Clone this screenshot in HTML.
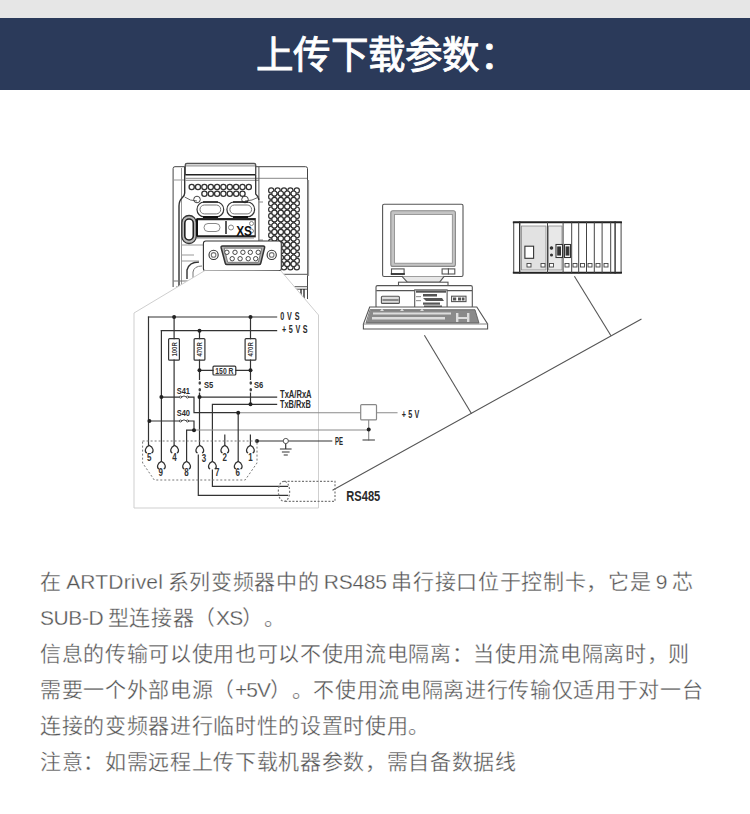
<!DOCTYPE html>
<html lang="zh-CN"><head><meta charset="utf-8">
<style>
html,body{margin:0;padding:0;background:#fff;}
body{width:750px;height:814px;position:relative;overflow:hidden;font-family:"Liberation Sans",sans-serif;}
.dg{position:absolute;left:0;top:0;}
.top{position:absolute;left:0;top:0;width:750px;height:18px;background:#e6e6e6;}
.hdr{position:absolute;left:0;top:18px;width:750px;height:72px;background:#2b3a5a;}
.hdr .t{position:absolute;left:256px;top:15px;font-size:37.5px;line-height:44px;color:#fff;font-weight:400;-webkit-text-stroke:0.9px #fff;letter-spacing:0.3px;white-space:nowrap;text-spacing-trim:space-all;}
.txt{position:absolute;left:40px;top:564px;font-size:21px;line-height:36px;color:#555;-webkit-text-stroke:0.3px #fff;letter-spacing:0.67px;word-spacing:-2px;white-space:nowrap;text-spacing-trim:space-all;}
.l{letter-spacing:0.17px;}
.d{letter-spacing:-0.25px;}
</style></head><body>
<div class="top"></div>
<div class="hdr"><div class="t">上传下载参数：</div></div>
<div class="txt">在 <span class="l">ARTDrivel</span> 系列变频器中的 <span class="d">RS485</span> 串行接口位于控制卡，它是 <span class="d">9</span> 芯<br><span class="l" style="letter-spacing:-0.43px">SUB-D</span> 型连接器（<span class="l" style="letter-spacing:-0.83px">XS</span>）。<br>信息的传输可以使用也可以不使用流电隔离：当使用流电隔离时，则<br>需要一个外部电源（<span class="d" style="letter-spacing:-1px">+5V</span>）。不使用流电隔离进行传输仅适用于对一台<br>连接的变频器进行临时性的设置时使用。<br>注意：如需远程上传下载机器参数，需自备数据线</div>
<svg class="dg" width="750" height="814" viewBox="0 0 750 814">
<g fill="none" stroke="#444" stroke-width="1">
<path d="M173.1,287 V168.5 Q173.1,166.7 175,166.7 H185.3" />
<path d="M181.5,168 V290" stroke="#999"/>
<path d="M173.5,180 H185" stroke="#999"/>
<path d="M184.7,167 V193 Q184.7,196 182,198 Q179,201 179,206 V290" stroke="#333" stroke-width="1.4"/>
<path d="M185.3,174.7 V165 Q185.3,163.5 187,163.5 H254 Q255.7,163.5 255.7,165 V174.7" stroke="#555" stroke-width="1.4"/><path d="M186,165.8 H255" stroke="#999" stroke-width="1.2"/>
<path d="M185.3,174.7 H255.7" stroke="#222" stroke-width="1.5"/>
<path d="M185.3,178.3 H307.5 M185.3,180.3 H258.9" stroke="#888"/>
<path d="M255.7,166.7 H305.5 Q307.5,166.7 307.5,168.5 V299" /><path d="M308.3,180 V276" stroke="#999" stroke-width="1.6"/>
<path d="M258.9,167 V281" stroke="#555"/>
<path d="M255.7,175 V194 Q258.9,197 258.9,200" stroke="#333" stroke-width="1.3"/>
<path d="M184.7,197 Q190,201 197,201 M245,201 Q252,201 258.9,197" stroke="#666"/>
<path d="M281.3,274.3 H307.5 M290,286.7 H307.5 M290,289.2 H307.5" stroke="#555"/>
<path d="M301,289 V299 M304,289 V299" stroke="#222" stroke-width="1.3"/>
<path d="M173.5,281 H203 M176,287 H186" stroke="#777"/>
<path d="M199,262 Q189,262 187,270 V279" stroke="#333" stroke-width="1.4"/>
<path d="M202,266 Q194,266 193,272 V279" stroke="#777"/>
<path d="M181.5,245 H203 M181.5,255 H194 M181.5,261 H199" stroke="#999"/>
<circle cx="191.7" cy="187" r="2.6" stroke="#333" stroke-width="1.3"/>
<circle cx="198.0" cy="187" r="2.6" stroke="#333" stroke-width="1.3"/>
<circle cx="204.4" cy="187" r="2.6" stroke="#333" stroke-width="1.3"/>
<circle cx="210.8" cy="187" r="2.6" stroke="#333" stroke-width="1.3"/>
<circle cx="217.1" cy="187" r="2.6" stroke="#333" stroke-width="1.3"/>
<circle cx="223.4" cy="187" r="2.6" stroke="#333" stroke-width="1.3"/>
<circle cx="229.8" cy="187" r="2.6" stroke="#333" stroke-width="1.3"/>
<circle cx="236.1" cy="187" r="2.6" stroke="#333" stroke-width="1.3"/>
<circle cx="242.5" cy="187" r="2.6" stroke="#333" stroke-width="1.3"/>
<circle cx="248.8" cy="187" r="2.6" stroke="#333" stroke-width="1.3"/>
<circle cx="204.4" cy="193.8" r="2.6" stroke="#333" stroke-width="1.3"/>
<circle cx="210.8" cy="193.8" r="2.6" stroke="#333" stroke-width="1.3"/>
<circle cx="217.1" cy="193.8" r="2.6" stroke="#333" stroke-width="1.3"/>
<circle cx="223.4" cy="193.8" r="2.6" stroke="#333" stroke-width="1.3"/>
<circle cx="229.8" cy="193.8" r="2.6" stroke="#333" stroke-width="1.3"/>
<circle cx="236.2" cy="193.8" r="2.6" stroke="#333" stroke-width="1.3"/>
<circle cx="242.5" cy="193.8" r="2.6" stroke="#333" stroke-width="1.3"/>
<circle cx="197" cy="199.5" r="3.3"/><circle cx="245" cy="199.5" r="3.3"/>
<rect x="197" y="202" width="26.7" height="14.9" rx="7.4" stroke="#333" stroke-width="1.2"/>
<rect x="200" y="205" width="20.7" height="8.9" rx="4.4" stroke="#777"/>
<rect x="226.9" y="202" width="27.7" height="14.9" rx="7.4" stroke="#333" stroke-width="1.2"/>
<rect x="229.9" y="205" width="21.7" height="8.9" rx="4.4" stroke="#777"/>
<path d="M203,217 H218 M233,217 H248" stroke="#111" stroke-width="2.2"/>
<path d="M203,202 H218 M233,202 H248" stroke="#222" stroke-width="1.3"/>
<rect x="181.8" y="215.5" width="14.5" height="28" rx="7.2" stroke="#333" stroke-width="1.3" fill="#bbb"/>
<rect x="184.8" y="219" width="8.5" height="21" rx="4.2" stroke="#222" stroke-width="1.6" fill="#fff"/>
<rect x="197" y="218.6" width="58.2" height="18.2" stroke="#333" stroke-width="1.2"/><path d="M197,219.3 H255.2 M197,236.2 H255.2" stroke="#222" stroke-width="1.8"/>
<path d="M197,219 V236" stroke="#111" stroke-width="2"/>
<rect x="204" y="223.5" width="16" height="8" rx="4" stroke="#888"/>
<path d="M226,221 V234" stroke="#222" stroke-width="1.5"/>
<circle cx="231" cy="227.5" r="2.5" stroke="#888"/><circle cx="251.5" cy="223.5" r="2" stroke="#888"/><circle cx="251.5" cy="231" r="2" stroke="#888"/>
<path d="M197,238 H254" stroke="#888"/>
<path d="M258.9,202 H263 M258.9,240 H263" stroke="#888"/>
</g>
<g fill="#fff" stroke="#333" stroke-width="1.2"><circle cx="271.2" cy="190.4" r="2.6"/><circle cx="277.6" cy="190.4" r="2.6"/><circle cx="284.0" cy="190.4" r="2.6"/><circle cx="290.4" cy="190.4" r="2.6"/><circle cx="296.8" cy="190.4" r="2.6"/><circle cx="271.2" cy="196.8" r="2.6"/><circle cx="277.6" cy="196.8" r="2.6"/><circle cx="284.0" cy="196.8" r="2.6"/><circle cx="290.4" cy="196.8" r="2.6"/><circle cx="296.8" cy="196.8" r="2.6"/><circle cx="271.2" cy="203.2" r="2.6"/><circle cx="277.6" cy="203.2" r="2.6"/><circle cx="284.0" cy="203.2" r="2.6"/><circle cx="290.4" cy="203.2" r="2.6"/><circle cx="296.8" cy="203.2" r="2.6"/><circle cx="271.2" cy="209.6" r="2.6"/><circle cx="277.6" cy="209.6" r="2.6"/><circle cx="284.0" cy="209.6" r="2.6"/><circle cx="290.4" cy="209.6" r="2.6"/><circle cx="296.8" cy="209.6" r="2.6"/><circle cx="271.2" cy="216.0" r="2.6"/><circle cx="277.6" cy="216.0" r="2.6"/><circle cx="284.0" cy="216.0" r="2.6"/><circle cx="290.4" cy="216.0" r="2.6"/><circle cx="296.8" cy="216.0" r="2.6"/><circle cx="271.2" cy="222.4" r="2.6"/><circle cx="277.6" cy="222.4" r="2.6"/><circle cx="284.0" cy="222.4" r="2.6"/><circle cx="290.4" cy="222.4" r="2.6"/><circle cx="296.8" cy="222.4" r="2.6"/><circle cx="271.2" cy="228.8" r="2.6"/><circle cx="277.6" cy="228.8" r="2.6"/><circle cx="284.0" cy="228.8" r="2.6"/><circle cx="290.4" cy="228.8" r="2.6"/><circle cx="296.8" cy="228.8" r="2.6"/><circle cx="271.2" cy="235.2" r="2.6"/><circle cx="277.6" cy="235.2" r="2.6"/><circle cx="284.0" cy="235.2" r="2.6"/><circle cx="290.4" cy="235.2" r="2.6"/><circle cx="296.8" cy="235.2" r="2.6"/><circle cx="271.2" cy="241.6" r="2.6"/><circle cx="277.6" cy="241.6" r="2.6"/><circle cx="284.0" cy="241.6" r="2.6"/><circle cx="290.4" cy="241.6" r="2.6"/><circle cx="296.8" cy="241.6" r="2.6"/><circle cx="271.2" cy="248.0" r="2.6"/><circle cx="277.6" cy="248.0" r="2.6"/><circle cx="284.0" cy="248.0" r="2.6"/><circle cx="290.4" cy="248.0" r="2.6"/><circle cx="296.8" cy="248.0" r="2.6"/><circle cx="271.2" cy="254.4" r="2.6"/><circle cx="277.6" cy="254.4" r="2.6"/><circle cx="284.0" cy="254.4" r="2.6"/><circle cx="290.4" cy="254.4" r="2.6"/><circle cx="296.8" cy="254.4" r="2.6"/><circle cx="271.2" cy="260.8" r="2.6"/><circle cx="277.6" cy="260.8" r="2.6"/><circle cx="284.0" cy="260.8" r="2.6"/><circle cx="290.4" cy="260.8" r="2.6"/><circle cx="296.8" cy="260.8" r="2.6"/><circle cx="271.2" cy="267.2" r="2.6"/><circle cx="277.6" cy="267.2" r="2.6"/><circle cx="284.0" cy="267.2" r="2.6"/><circle cx="290.4" cy="267.2" r="2.6"/><circle cx="296.8" cy="267.2" r="2.6"/><circle cx="274.4" cy="193.6" r="2.6"/><circle cx="280.8" cy="193.6" r="2.6"/><circle cx="287.2" cy="193.6" r="2.6"/><circle cx="293.6" cy="193.6" r="2.6"/><circle cx="274.4" cy="200.0" r="2.6"/><circle cx="280.8" cy="200.0" r="2.6"/><circle cx="287.2" cy="200.0" r="2.6"/><circle cx="293.6" cy="200.0" r="2.6"/><circle cx="274.4" cy="206.4" r="2.6"/><circle cx="280.8" cy="206.4" r="2.6"/><circle cx="287.2" cy="206.4" r="2.6"/><circle cx="293.6" cy="206.4" r="2.6"/><circle cx="274.4" cy="212.8" r="2.6"/><circle cx="280.8" cy="212.8" r="2.6"/><circle cx="287.2" cy="212.8" r="2.6"/><circle cx="293.6" cy="212.8" r="2.6"/><circle cx="274.4" cy="219.2" r="2.6"/><circle cx="280.8" cy="219.2" r="2.6"/><circle cx="287.2" cy="219.2" r="2.6"/><circle cx="293.6" cy="219.2" r="2.6"/><circle cx="274.4" cy="225.6" r="2.6"/><circle cx="280.8" cy="225.6" r="2.6"/><circle cx="287.2" cy="225.6" r="2.6"/><circle cx="293.6" cy="225.6" r="2.6"/><circle cx="274.4" cy="232.0" r="2.6"/><circle cx="280.8" cy="232.0" r="2.6"/><circle cx="287.2" cy="232.0" r="2.6"/><circle cx="293.6" cy="232.0" r="2.6"/><circle cx="274.4" cy="238.4" r="2.6"/><circle cx="280.8" cy="238.4" r="2.6"/><circle cx="287.2" cy="238.4" r="2.6"/><circle cx="293.6" cy="238.4" r="2.6"/><circle cx="274.4" cy="244.8" r="2.6"/><circle cx="280.8" cy="244.8" r="2.6"/><circle cx="287.2" cy="244.8" r="2.6"/><circle cx="293.6" cy="244.8" r="2.6"/><circle cx="274.4" cy="251.2" r="2.6"/><circle cx="280.8" cy="251.2" r="2.6"/><circle cx="287.2" cy="251.2" r="2.6"/><circle cx="293.6" cy="251.2" r="2.6"/><circle cx="274.4" cy="257.6" r="2.6"/><circle cx="280.8" cy="257.6" r="2.6"/><circle cx="287.2" cy="257.6" r="2.6"/><circle cx="293.6" cy="257.6" r="2.6"/><circle cx="274.4" cy="264.0" r="2.6"/><circle cx="280.8" cy="264.0" r="2.6"/><circle cx="287.2" cy="264.0" r="2.6"/><circle cx="293.6" cy="264.0" r="2.6"/></g>
<g fill="#fff" stroke="#333" stroke-width="1.1">
<rect x="203.4" y="241" width="77.9" height="29.9" rx="2.5"/>
<path d="M222.5,246 H263.2 Q265,246 264.5,248 L260.8,263 Q260.4,264.6 259,264.6 H227 Q225.6,264.6 225.2,263 L221.2,248 Q220.8,246 222.5,246 Z" stroke-width="1.5" fill="#b0b0b0"/>
<path d="M224.3,248.2 H261.7 L258.3,262.3 H227.7 Z" stroke="#666" stroke-width="0.8" fill="#fff"/>
<circle cx="226.9" cy="252.3" r="2.2" stroke-width="0.9"/>
<circle cx="235" cy="252.3" r="2.2" stroke-width="0.9"/>
<circle cx="242.9" cy="252.3" r="2.2" stroke-width="0.9"/>
<circle cx="250.3" cy="252.3" r="2.2" stroke-width="0.9"/>
<circle cx="258.2" cy="252.3" r="2.2" stroke-width="0.9"/>
<circle cx="232.2" cy="258.7" r="2.2" stroke-width="0.9"/>
<circle cx="240.1" cy="258.7" r="2.2" stroke-width="0.9"/>
<circle cx="248.2" cy="258.7" r="2.2" stroke-width="0.9"/>
<circle cx="255.7" cy="258.7" r="2.2" stroke-width="0.9"/>
<circle cx="213.6" cy="254.9" r="4.6"/><circle cx="213.6" cy="254.9" r="2.3" stroke="#777"/>
<circle cx="271.7" cy="254.9" r="4.6"/><circle cx="271.7" cy="254.9" r="2.3" stroke="#777"/>
</g>
<text transform="translate(236.2,235.6) scale(0.85,1)" font-family="Liberation Sans, sans-serif" font-size="14" font-weight="bold" fill="#111" letter-spacing="-0.3">XS</text>
<g fill="none" stroke="#333" stroke-width="1.2" stroke-linecap="square">
<!-- callout polygon -->
<path d="M205,270.5 L134,313 L134,508 L318.5,508 L318.5,315 L281,271" stroke="#cfcfcf" stroke-width="1" fill="#fff"/>
<!-- bus lines -->
<path d="M333,490 L641,319.3" stroke="#555" stroke-width="1.1"/>
<path d="M424.7,335.7 L471.3,413.2" stroke="#555" stroke-width="1.1"/>
<path d="M574.7,276.7 L610.7,335.3" stroke="#555" stroke-width="1.1"/>
<g fill="none" stroke="#555" stroke-width="1.1">
<rect x="382.6" y="204.3" width="80.4" height="72.2" rx="1.5" fill="#fff"/>
<rect x="390.8" y="210.7" width="64.6" height="55.7" rx="2" fill="#c4c4c4" stroke="#888"/>
<rect x="394.6" y="214.5" width="57.7" height="48.7" fill="#fff" stroke="#888" stroke-width="0.8"/>
<rect x="391.5" y="268.9" width="12.6" height="5.1" fill="#fff"/>
<path d="M391.5,274 H404.1" stroke="#222" stroke-width="1.5"/>
<rect x="442.1" y="268.9" width="12.7" height="5.1" fill="#fff"/>
<path d="M448.4,268.9 V274" />
<path d="M402.2,276.5 L407.3,282.2 H439.6 L444,276.5" fill="#e8e8e8"/>
<rect x="398.5" y="282.2" width="49.5" height="4.1" fill="#fff"/>
<rect x="376" y="285.6" width="96.3" height="22.3" rx="1.5" fill="#fff"/>

<path d="M377,290.6 H414.7 M447.1,290.6 H471.3" stroke="#555" stroke-width="1.4"/>
<rect x="381.4" y="296.2" width="18" height="7.2" rx="1" fill="#ddd"/>
<path d="M383,300 H398" stroke="#444"/>
<rect x="451.6" y="296.2" width="14.4" height="5.4" fill="#fff"/>
<rect x="414.7" y="289.9" width="32.4" height="18" fill="#fff"/>
</g>
<g fill="#555" stroke="none">
<rect x="416" y="290.5" width="30" height="2.2"/>
<rect x="423" y="294" width="14" height="2.5"/>
<path d="M423,298 H442 L444,301 H426 Z"/>
<rect x="423" y="302.5" width="17" height="2.2"/>
<rect x="424" y="305.5" width="18" height="2.4"/>
<rect x="416" y="296" width="5" height="1.2" fill="#999"/><rect x="416" y="300" width="5" height="1.2" fill="#999"/>
<rect x="453" y="297.5" width="3.2" height="3"/><rect x="458" y="297.5" width="3.2" height="3"/><rect x="462" y="297.5" width="2.5" height="3"/>
</g>
<path d="M369.7,307 H476.8 L487.6,324 V329 H363.4 V324 Z" fill="#fff" stroke="#555" stroke-width="1.1"/>
<path d="M363.4,324 H487.6" stroke="#777" stroke-width="0.9"/>
<path d="M370.6,309.7 H475 L479,323 H366.5 Z" fill="#8a8a8a" stroke="#555" stroke-width="0.8"/>
<g fill="#ddd" stroke="none">
<rect x="373" y="312.5" width="78" height="2"/><rect x="372" y="317" width="73" height="2.5"/><rect x="456" y="313" width="2.4" height="9"/><rect x="467" y="313" width="2.4" height="9"/><rect x="456" y="317" width="13" height="2"/>
<path d="M380,311 l2,-2.5 l2,2.5 z M400,311 l2,-2.5 l2,2.5 z M420,311 l2,-2.5 l2,2.5 z"/>
</g>
<g fill="none" stroke="#333" stroke-width="1.1">
<rect x="513.7" y="221.9" width="107.4" height="51.2" fill="#fff" stroke="#555"/>
<path d="M513.7,222.3 H621.1 M513.7,272.6 H621.1" stroke="#222" stroke-width="1.8"/>
<path d="M519.7,222 V273 M615.1,222 V273" stroke="#333" stroke-width="1.4"/>
<rect x="521.5" y="226" width="24.5" height="44" fill="#e2e2e2" stroke="#888" stroke-width="0.8"/>
<rect x="548.5" y="226" width="13.5" height="44" fill="#e8e8e8" stroke="#888" stroke-width="0.8"/>
<path d="M547.5,222 V273 M563.1,222 V273 M571.7,222 V273 M578.7,222 V273 M586.5,222 V273 M594.3,222 V273 M602.1,222 V273 M610.7,222 V273" stroke="#444" stroke-width="1"/>
<rect x="524.9" y="246.2" width="8.7" height="12.1" fill="#fff" stroke="#333"/>
<rect x="556" y="244.5" width="6.5" height="13" fill="#fff" stroke="#333"/>
<rect x="564.5" y="244.5" width="6" height="13" fill="#fff" stroke="#333"/>
</g>
<g fill="#fff" stroke="#444" stroke-width="0.9">
<rect x="527" y="263.5" width="4" height="3.5"/><rect x="541" y="263.5" width="4" height="3.5"/><rect x="549.5" y="263.5" width="4" height="3.5"/>
<rect x="565" y="263.5" width="4" height="3.5"/><rect x="573" y="263.5" width="4" height="3.5"/><rect x="580.5" y="263.5" width="4" height="3.5"/><rect x="588" y="263.5" width="4" height="3.5"/><rect x="596" y="263.5" width="4" height="3.5"/><rect x="604" y="263.5" width="4" height="3.5"/>
</g>
<g fill="#333"><rect x="557.8" y="247" width="2.6" height="8"/><rect x="566.2" y="247" width="2.6" height="8"/><circle cx="551.5" cy="248" r="1.2"/><circle cx="551.5" cy="255" r="0.9"/></g>
<g fill="none" stroke="#333" stroke-width="1.2" stroke-linecap="square">
<!-- circuit -->
<path d="M148.5,317 H276.6 M161.4,330.7 H276.6"/>
<path d="M148.5,317 V445.4 M161.4,330.7 V461.4"/>
<path d="M174.1,317 V338.6 M174.1,360.2 V445.4"/>
<rect x="168.6" y="338.6" width="10.8" height="21.6" rx="1"/>
<path d="M199.5,330.7 V338.6 M199.5,360.2 V370 M199.5,394 V445.4"/>
<rect x="194.1" y="338.6" width="10.8" height="21.6" rx="1"/>
<path d="M250.5,317 V338.6 M250.5,360.2 V370"/>
<rect x="245.1" y="338.6" width="10.8" height="21.6" rx="1"/>
<path d="M199.5,370.3 H213 M235.8,370.3 H250.5"/>
<rect x="213" y="366.2" width="22.8" height="8.8" rx="1"/>
<path d="M199.5,370 V379.5 M199.5,393 V397 M250.5,370 V379.5 M250.5,393 V404"/>
<g fill="#444" stroke="none"><ellipse cx="199.8" cy="383" rx="1.3" ry="1.7"/><ellipse cx="199.8" cy="389.7" rx="1.3" ry="1.7"/><ellipse cx="250.8" cy="383" rx="1.3" ry="1.7"/><ellipse cx="250.8" cy="389.7" rx="1.3" ry="1.7"/></g>
<path d="M161.4,397.1 H179.5 M188.5,397.1 H194 V412.7 H238.2" /><path d="M238.2,412.7 H360.7" stroke="#8a8a8a" stroke-width="1.1"/>
<path d="M181,397.1 Q184,394.5 187,397.1 M181,421 Q184,418.4 187,421" stroke-width="0.9"/><g fill="#fff" stroke="#444" stroke-width="0.8"><circle cx="180.5" cy="397.1" r="1.1"/><circle cx="187.5" cy="397.1" r="1.1"/><circle cx="180.5" cy="421" r="1.1"/><circle cx="187.5" cy="421" r="1.1"/></g>
<path d="M199.5,397.1 H276.6 M212.4,461.4 V404.3 H276.6"/>
<path d="M149.4,421 H179.5 M188.5,421 H194 V430.2 M186.6,461.4 V430.2 H194" /><path d="M194,430 H368.7" stroke="#8a8a8a" stroke-width="1.1"/>
<path d="M238.2,412.7 V461.4"/>
<path d="M224.8,435 V445.4 M250.4,435 V445.4"/>
<path d="M257,441 H331.7 M285.7,443.6 V449 M280.5,449 H291 M282.5,452 H289 M284.3,455 H287.2"/>
<path d="M376.5,412.8 H397 M368.7,419.9 V440" stroke="#8a8a8a" stroke-width="1.1"/><path d="M363.1,440 H374.3" stroke="#555"/>
<rect x="360.7" y="404.6" width="15.8" height="15.3" rx="1" stroke="#888" fill="#fff"/>
<path d="M212.4,470 V486.3 H287.5 M198.3,455 V495.3 H287.5"/>
</g></g>
<g fill="#222" stroke="none">
<circle cx="174.1" cy="317" r="2"/><circle cx="250.5" cy="317" r="2"/><circle cx="199.5" cy="330.7" r="2"/>
<circle cx="199.5" cy="370.3" r="2"/><circle cx="250.5" cy="370.3" r="2"/>
<circle cx="161.4" cy="397.1" r="2"/><circle cx="199.5" cy="397.1" r="2"/><circle cx="250.5" cy="404.3" r="2"/>
<circle cx="238.2" cy="412.7" r="2"/><circle cx="149.4" cy="421" r="2"/><circle cx="194" cy="430.2" r="2"/>
<circle cx="257" cy="441" r="2"/><circle cx="368.7" cy="429.6" r="2"/>
</g>
<circle cx="285.8" cy="441" r="2.6" fill="#fff" stroke="#555" stroke-width="1"/>
<path d="M146.9,453.0 C144.2,451.6 145.0,447.0 149.2,445.4 C153.4,447.0 154.2,451.6 151.5,453.0 M172.3,453.0 C169.6,451.6 170.4,447.0 174.6,445.4 C178.8,447.0 179.6,451.6 176.9,453.0 M197.5,453.0 C194.8,451.6 195.6,447.0 199.8,445.4 C204.0,447.0 204.8,451.6 202.1,453.0 M222.5,453.0 C219.8,451.6 220.6,447.0 224.8,445.4 C229.0,447.0 229.8,451.6 227.1,453.0 M248.1,453.0 C245.4,451.6 246.2,447.0 250.4,445.4 C254.6,447.0 255.4,451.6 252.7,453.0 M159.1,469.0 C156.4,467.6 157.2,463.0 161.4,461.4 C165.6,463.0 166.4,467.6 163.7,469.0 M184.3,469.0 C181.6,467.6 182.4,463.0 186.6,461.4 C190.8,463.0 191.6,467.6 188.9,469.0 M210.1,469.0 C207.4,467.6 208.2,463.0 212.4,461.4 C216.6,463.0 217.4,467.6 214.7,469.0 M235.9,469.0 C233.2,467.6 234.0,463.0 238.2,461.4 C242.4,463.0 243.2,467.6 240.5,469.0 " fill="none" stroke="#333" stroke-width="1.2"/>
<path d="M142.6,441 H257 V463 L245.2,480 H154.3 L142.6,463 Z" fill="none" stroke="#777" stroke-width="1" stroke-dasharray="2 2"/>
<path d="M284,481.3 H335 V501.3 H284 M284,481.3 C276.5,481.3 276.5,501.3 284,501.3 C291.5,501.3 291.5,481.3 284,481.3" fill="none" stroke="#777" stroke-width="1.2" stroke-dasharray="2 1.6"/>
<g font-family="Liberation Sans, sans-serif" font-size="10" font-weight="bold" fill="#333" text-anchor="middle"><text transform="translate(149.2,460.6) scale(0.8,1)">5</text><text transform="translate(174.4,460.6) scale(0.8,1)">4</text><text transform="translate(204,462) scale(0.8,1)">3</text><text transform="translate(224.8,460.6) scale(0.8,1)">2</text><text transform="translate(250.4,460.6) scale(0.8,1)">1</text><text transform="translate(160.8,476) scale(0.8,1)">9</text><text transform="translate(186.4,476) scale(0.8,1)">8</text><text transform="translate(217.2,476) scale(0.8,1)">7</text><text transform="translate(237.6,476) scale(0.8,1)">6</text></g>
<g font-family="Liberation Sans, sans-serif" font-weight="bold" fill="#2a2a2a" lengthAdjust="spacingAndGlyphs">
<text transform="translate(280.2,320.2) scale(0.72,1)" font-size="10" letter-spacing="4">0VS</text>
<text transform="translate(282,332.8) scale(0.72,1)" font-size="10" letter-spacing="3.6">+5VS</text>
<text x="280" y="397.9" font-size="10" textLength="31.6" lengthAdjust="spacingAndGlyphs">TxA/RxA</text>
<text x="280" y="407.5" font-size="10" textLength="30.8" lengthAdjust="spacingAndGlyphs">TxB/RxB</text>
<text x="204" y="387.8" font-size="9.5" textLength="9.3" lengthAdjust="spacingAndGlyphs">S5</text>
<text x="254" y="387.8" font-size="9.5" textLength="9.3" lengthAdjust="spacingAndGlyphs">S6</text>
<text x="176.7" y="393.8" font-size="9.5" textLength="13.3" lengthAdjust="spacingAndGlyphs">S41</text>
<text x="176.7" y="416.4" font-size="9.5" textLength="13.3" lengthAdjust="spacingAndGlyphs">S40</text>
<text x="335" y="444.8" font-size="10" textLength="8" lengthAdjust="spacingAndGlyphs">PE</text>
<text transform="translate(401.7,417.5) scale(0.72,1)" font-size="10" letter-spacing="3.2">+5V</text>
<text x="346.3" y="500.8" font-size="14" textLength="34" lengthAdjust="spacingAndGlyphs">RS485</text>
</g>
<g font-family="Liberation Sans, sans-serif" font-size="7.5" font-weight="bold" fill="#333" text-anchor="middle">
<text transform="translate(176.8,349.4) rotate(-90) scale(0.8,1)">100R</text>
<text transform="translate(202.2,349.4) rotate(-90) scale(0.8,1)">470R</text>
<text transform="translate(253.2,349.4) rotate(-90) scale(0.8,1)">470R</text>
<text transform="translate(224.4,373.6) scale(0.8,1)" font-size="8.5">150 R</text>
</g>
</svg>
</body></html>
